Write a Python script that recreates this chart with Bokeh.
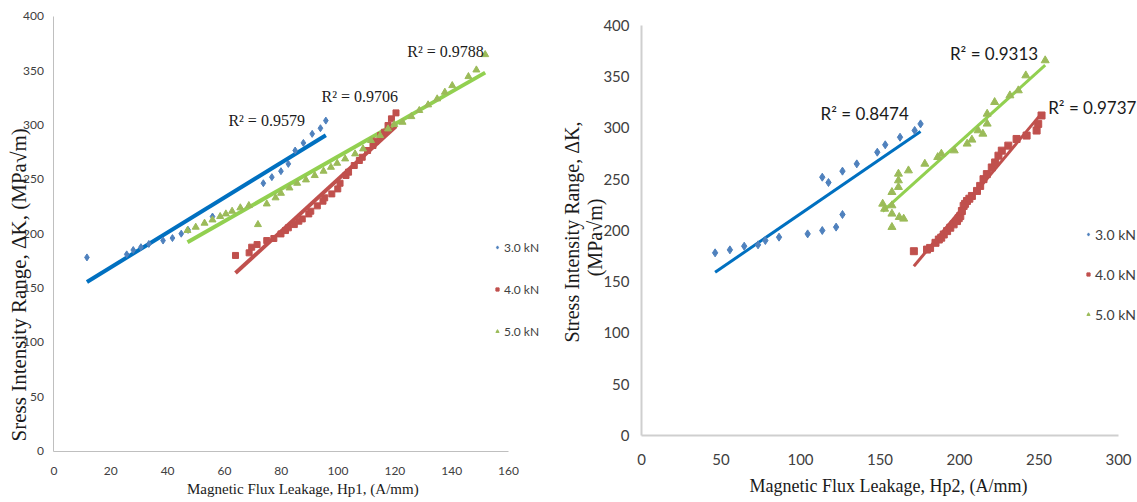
import numpy as np
from bokeh.plotting import figure
from bokeh.models import Range1d, FixedTicker, Label, Legend, LegendItem, LinearAxis
from bokeh.layouts import row
from bokeh.embed import file_html
from bokeh.resources import INLINE

# ---------------- data: left chart (Hp1) ----------------
hp1_3kn_x = [11.6, 25.6, 27.9, 30.6, 33.4, 38.4, 41.7, 44.8, 47.2, 55.8, 73.7, 76.7, 79.9, 82.5,
             84.9, 87.8, 90.9, 93.8, 95.7]
hp1_3kn_y = [178.2, 181.0, 185.0, 187.6, 190.6, 193.7, 196.0, 200.0, 203.5, 215.8, 246.4, 252.0,
             257.5, 264.2, 276.5, 283.5, 291.8, 297.0, 304.0]

hp1_4kn_x = [63.9, 68.7, 69.6, 71.5, 74.9, 77.4, 79.9, 81.5, 82.5, 84.6, 86.2, 87.4, 89.7, 90.4,
             92.7, 94.7, 95.3, 97.8, 99.9, 100.7, 102.8, 103.7, 105.7, 107.5, 108.5, 110.4, 112.3,
             113.3, 115.0, 116.3, 117.6, 118.8, 120.4]
hp1_4kn_y = [180.0, 182.4, 187.6, 190.0, 193.7, 195.6, 199.8, 202.9, 205.4, 208.4, 211.5, 213.6,
             218.2, 220.7, 225.6, 229.9, 233.0, 236.6, 241.2, 246.4, 253.5, 256.6, 262.7, 267.3,
             270.3, 276.5, 281.1, 285.1, 290.3, 293.3, 299.5, 305.6, 311.1]

hp1_5kn_x = [47.0, 49.9, 53.0, 55.8, 58.5, 60.5, 62.7, 65.6, 68.6, 71.8, 74.9, 78.0, 79.9, 82.9,
             85.6, 88.7, 91.8, 94.9, 97.5, 99.7, 102.5, 106.0, 108.8, 111.6, 114.8, 117.6, 119.8,
             122.7, 125.8, 128.6, 131.7, 134.9, 137.6, 140.2, 145.9, 148.7, 151.8]
hp1_5kn_y = [203.0, 206.0, 209.7, 212.7, 215.8, 218.2, 220.7, 223.8, 225.9, 208.4, 227.4, 233.0,
             237.2, 242.1, 246.4, 249.5, 253.5, 257.5, 261.1, 264.8, 268.8, 273.4, 278.0, 285.7,
             290.3, 296.4, 300.4, 302.5, 307.7, 313.3, 318.5, 324.0, 330.1, 336.2, 344.5, 350.6,
             364.7]

# ---------------- data: right chart (Hp2) ----------------
hp2_3kn_x = [46.3, 55.6, 64.6, 73.3, 77.9, 86.5, 104.5, 113.7, 122.4, 126.4, 113.7, 117.6, 126.4,
             135.4, 148.3, 153.3, 162.6, 171.8, 175.5]
hp2_3kn_y = [178.2, 181.1, 184.7, 186.0, 190.2, 193.5, 196.7, 200.0, 203.3, 215.6, 252.0, 246.8,
             257.9, 265.0, 276.4, 283.6, 291.0, 297.6, 304.0]

hp2_4kn_x = [171.3, 179.6, 181.5, 184.9, 187.0, 188.5, 190.1, 192.2, 194.2, 196.3, 198.4, 199.5,
             200.5, 201.5, 202.6, 203.5, 204.7, 206.2, 207.8, 211.0, 213.0, 215.1, 217.2, 220.3,
             222.4, 224.5, 226.6, 230.7, 235.9, 242.2, 248.5, 249.5, 251.6]
hp2_4kn_y = [179.8, 181.4, 183.0, 188.0, 191.2, 193.0, 196.1, 199.4, 202.7, 206.0, 209.2, 212.0,
             214.1, 219.0, 224.0, 226.0, 228.8, 231.0, 233.7, 238.6, 243.5, 250.1, 255.0, 261.5,
             266.4, 273.0, 277.9, 282.8, 289.3, 292.6, 297.5, 304.0, 312.2]

hp2_5kn_x = [151.7, 152.9, 157.5, 157.5, 157.5, 157.5, 161.6, 161.6, 161.6, 162.1, 164.9, 167.9,
             178.2, 186.3, 188.6, 196.7, 204.8, 207.8, 211.7, 214.7, 217.4, 217.4, 222.1, 231.7,
             237.0, 241.7, 253.9]
hp2_5kn_y = [226.0, 221.1, 237.4, 224.4, 216.3, 203.3, 255.3, 248.8, 242.3, 213.0, 211.4, 258.5,
             265.0, 271.5, 274.8, 278.0, 284.6, 288.5, 297.6, 294.3, 304.1, 313.8, 325.2, 331.7,
             336.6, 351.2, 365.9]

series_labels = ["3.0 kN", "4.0 kN", "5.0 kN"]
r2_left = ["R\u00b2 = 0.9579", "R\u00b2 = 0.9706", "R\u00b2 = 0.9788"]
r2_right = ["R\u00b2 = 0.8474", "R\u00b2 = 0.9313", "R\u00b2 = 0.9737"]
x_ticks_left = [0, 20, 40, 60, 80, 100, 120, 140, 160]
x_ticks_right = [0, 50, 100, 150, 200, 250, 300]
y_ticks = [0, 50, 100, 150, 200, 250, 300, 350, 400]

MARK_COLORS = ["#4F81BD", "#C0504D", "#9BBB59"]
LINE_COLORS = ["#0070C0", "#C0504D", "#92D050"]
MARKERS = ["diamond", "square", "triangle"]

SERIF = "Liberation Serif"
SANS = "Lato"


def base_fig(width, height, xr, yr, xmax, xticks, tick_size, xstand, ystand, axcol, axw):
    p = figure(width=width, height=height, output_backend="svg", toolbar_location=None,
               x_range=Range1d(*xr), y_range=Range1d(*yr),
               x_axis_location=None, y_axis_location=None,
               min_border=0, min_border_left=0, min_border_right=0,
               min_border_top=0, min_border_bottom=0)
    p.outline_line_color = None
    p.xgrid.visible = False
    p.ygrid.visible = False
    p.background_fill_color = "white"
    p.border_fill_color = "white"
    xa = LinearAxis(fixed_location=0, bounds=(0, xmax), ticker=FixedTicker(ticks=xticks))
    ya = LinearAxis(fixed_location=0, bounds=(0, 400), ticker=FixedTicker(ticks=y_ticks))
    xa.major_label_standoff = xstand
    ya.major_label_standoff = ystand
    for ax in (xa, ya):
        ax.major_tick_in = 0
        ax.major_tick_out = 0
        ax.minor_tick_in = 0
        ax.minor_tick_out = 0
        ax.major_label_text_font = SANS
        ax.major_label_text_font_size = tick_size
        ax.major_label_text_color = "#404040"
        ax.axis_line_color = axcol
        ax.axis_line_width = axw
    p.add_layout(xa, "below")
    p.add_layout(ya, "left")
    return p


def add_series(p, xs_list, ys_list, sizes, lw):
    rends = []
    for i, (xs, ys) in enumerate(zip(xs_list, ys_list)):
        xs = np.asarray(xs)
        ys = np.asarray(ys)
        m, c = np.polyfit(xs, ys, 1)
        xl = np.array([xs.min(), xs.max()])
        p.line(xl, m * xl + c, line_color=LINE_COLORS[i], line_width=lw)
    for i, (xs, ys) in enumerate(zip(xs_list, ys_list)):
        r = p.scatter(xs, ys, marker=MARKERS[i], size=sizes[i], fill_color=MARK_COLORS[i],
                      line_color=MARK_COLORS[i])
        rends.append(r)
    return rends


def add_legend(p, rends, loc, fsize, spacing):
    items = [LegendItem(label=series_labels[i], renderers=[rends[i]]) for i in range(3)]
    lg = Legend(items=items, location=loc, orientation="vertical")
    lg.border_line_color = None
    lg.background_fill_alpha = 0
    lg.margin = 0
    lg.padding = 0
    lg.glyph_width = 8
    lg.glyph_height = 8
    lg.label_standoff = 3
    lg.label_height = 20
    lg.spacing = spacing
    lg.label_text_font = SANS
    lg.label_text_font_size = fsize
    lg.label_text_color = "#404040"
    p.add_layout(lg)


def label(p, x, y, text, font, size, angle=0.0, align="left"):
    p.add_layout(Label(x=x, y=y, text=text, text_font=font, text_font_size=size, angle=angle,
                       text_align=align, text_baseline="middle", text_color="#1a1a1a"))


# ---------------- left figure ----------------
p1 = base_fig(560, 502, (-18.83, 178.31), (-47.17, 414.44), 160, x_ticks_left, "12px", 16, 10,
              "#BFBFBF", 1)
r1 = add_series(p1, [hp1_3kn_x, hp1_4kn_x, hp1_5kn_x], [hp1_3kn_y, hp1_4kn_y, hp1_5kn_y],
                [7, 6, 7], 4)
add_legend(p1, r1, (493, 161), "12px", 22)

for txt, (lx, ly) in zip(r2_left, [(61.4, 304.1), (94.2, 326.2), (124.4, 367.5)]):
    label(p1, lx, ly, txt, SERIF, "16px")
label(p1, 87.6, -34.3, "Magnetic Flux Leakage, Hp1, (A/mm)", SERIF, "15px", align="center")
label(p1, -12.3, 153.0, "Sress Intensity Range, \u0394K, (MPa\u221am)", SERIF, "21px",
      angle=np.pi / 2, align="center")

# ---------------- right figure ----------------
p2 = base_fig(577, 502, (-50.94, 311.95), (-65.37, 424.39), 300, x_ticks_right, "15px", 19, 12,
              "#CFCFCF", 2)
r2 = add_series(p2, [hp2_3kn_x, hp2_4kn_x, hp2_5kn_x], [hp2_3kn_y, hp2_4kn_y, hp2_5kn_y],
                [8, 7, 8], 3)
add_legend(p2, r2, (524, 178), "14px", 20)

for txt, (lx, ly) in zip(r2_right, [(112.6, 314.1), (194.0, 373.0), (255.8, 320.3)]):
    label(p2, lx, ly, txt, SANS, "17px")
label(p2, 155.3, -48.8, "Magnetic Flux Leakage, Hp2, (A/mm)", SERIF, "18px", align="center")
label(p2, -44.0, 198.5, "Stress Intensity Range, \u0394K,", SERIF, "20px", angle=np.pi / 2,
      align="center")
label(p2, -29.5, 193.2, "(MPa\u221am)", SERIF, "20px", angle=np.pi / 2, align="center")

layout = row(p1, p2)
open("out.html", "w").write(file_html(layout, INLINE))
